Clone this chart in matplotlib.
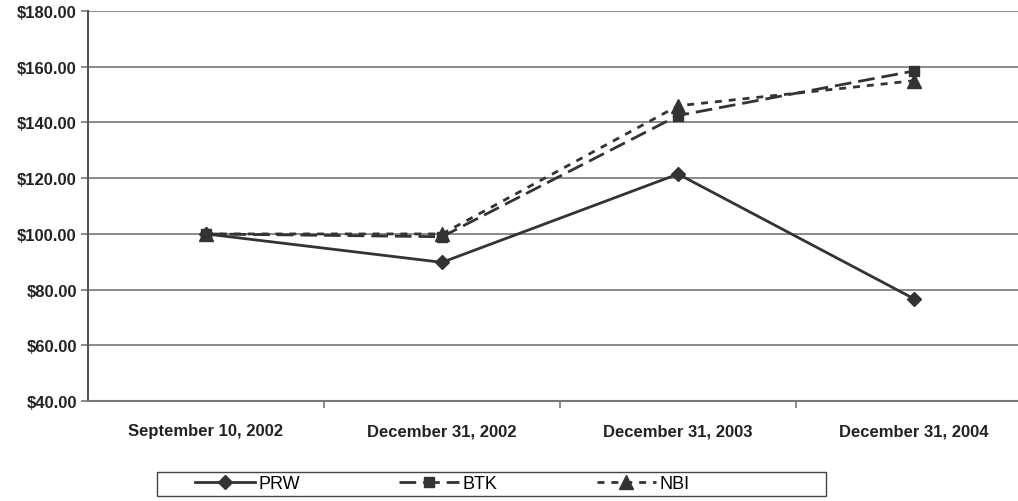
import matplotlib.pyplot as plt
from matplotlib.patches import Rectangle
import numpy as np

plt.rcParams['font.family'] = ['Liberation Sans', 'DejaVu Sans']

dates = ["September 10, 2002", "December 31, 2002", "December 31, 2003", "December 31, 2004"]
prw = [100.0, 89.8, 121.5, 76.7]
btk = [100.0, 99.0, 142.5, 158.5]
nbi = [100.0, 100.0, 146.0, 155.0]

ink = "#333333"

fig = plt.figure(figsize=(10.18, 5.02), dpi=100)
ax = fig.add_axes([0.0864, 0.199, 0.9136, 0.777])

x = np.arange(len(dates))
ax.plot(x, prw, color=ink, lw=2.0, marker="D", ms=7.5, label="PRW", zorder=3)
ax.plot(x, btk, color=ink, lw=2.0, ls=(0, (6, 2.5)), marker="s", ms=7.5, label="BTK", zorder=4)
ax.plot(x, nbi, color=ink, lw=2.0, ls=(0, (2.5, 2.5)), marker="^", ms=10, label="NBI", zorder=5)

ax.set_ylim(40, 180)
ax.set_yticks(np.arange(40, 181, 20))
ax.set_yticklabels(["$%.2f" % v for v in np.arange(40, 181, 20)], fontsize=12, fontweight="bold", color="#222222")
ax.yaxis.grid(True, color="#777777", lw=1.2)
ax.set_axisbelow(True)

ax.set_xlim(-0.5, 3.44)
ax.set_xticks(x)
ax.set_xticklabels(dates, fontsize=12, fontweight="bold", color="#222222")
ax.set_xticks(np.arange(0.5, 3, 1), minor=True)
ax.tick_params(axis="x", which="major", length=0, pad=16)
ax.tick_params(axis="x", which="minor", length=5, color="#777777", width=1.2)
ax.tick_params(axis="y", length=5, color="#777777", width=1.2, pad=3)

for s in ["top", "right"]:
    ax.spines[s].set_visible(False)
ax.spines["left"].set_color("#555555")
ax.spines["left"].set_linewidth(1.5)
ax.spines["bottom"].set_color("#777777")
ax.spines["bottom"].set_linewidth(1.5)

# legend box drawn separately, entries sit left of centre like the original
fig.patches.append(Rectangle((157 / 1018, 5 / 502), 669 / 1018, 24 / 502, transform=fig.transFigure,
                             fill=False, edgecolor="#444444", lw=1.0))
leg = fig.legend(loc="center left", bbox_to_anchor=(195 / 1018, 17 / 502), ncol=3,
                 frameon=False, handlelength=3.3, columnspacing=5.5,
                 prop={"size": 13}, borderaxespad=0, borderpad=0, handletextpad=0.2)

fig.savefig("out.png", dpi=100)
